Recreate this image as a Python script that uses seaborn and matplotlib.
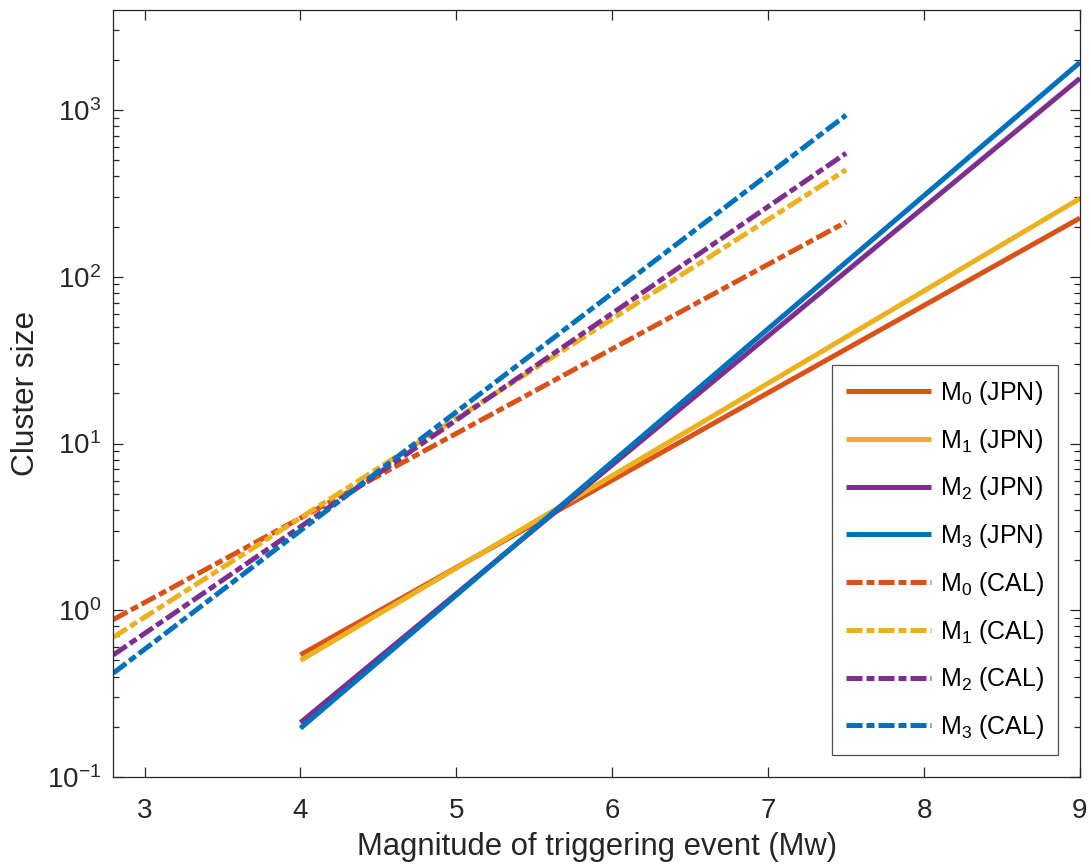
import matplotlib
matplotlib.use("Agg")
import matplotlib.pyplot as plt
import numpy as np
import pandas as pd
import seaborn as sns
from matplotlib.ticker import LogLocator, NullFormatter, FixedLocator


# values (straight lines in log space: endpoints)
jpn_mag = [4.0, 9.0]
jpn_m0 = [0.54, 225]
jpn_m1 = [0.50, 295]
jpn_m2 = [0.212, 1550]
jpn_m3 = [0.196, 1930]

cal_mag = [2.8, 7.5]
cal_m0 = [0.88, 213]
cal_m1 = [0.69, 438]
cal_m2 = [0.54, 551]
cal_m3 = [0.42, 932]

model_names = ["M$_0$", "M$_1$", "M$_2$", "M$_3$"]
colors = ["#D95319", "#EDB120", "#7E2F8E", "#0072BD"]
x_ticks = [3, 4, 5, 6, 7, 8, 9]

sns.set_theme(style="ticks")
plt.rcParams["font.family"] = ["Liberation Sans", "DejaVu Sans"]
plt.rcParams["mathtext.fontset"] = "custom"
plt.rcParams["mathtext.rm"] = "Liberation Sans"
plt.rcParams["mathtext.it"] = "Liberation Sans"
plt.rcParams["mathtext.default"] = "regular"

ink = "#262626"

fig = plt.figure(figsize=(10.91, 8.67), dpi=100)
ax = fig.add_axes([0.1039, 0.1038, 0.886, 0.8847])

rows = []
for name, vals in zip(model_names, [jpn_m0, jpn_m1, jpn_m2, jpn_m3]):
    for m, v in zip(jpn_mag, vals):
        rows.append({"mag": m, "size": v, "label": f"{name} (JPN)", "region": "JPN"})
for name, vals in zip(model_names, [cal_m0, cal_m1, cal_m2, cal_m3]):
    for m, v in zip(cal_mag, vals):
        rows.append({"mag": m, "size": v, "label": f"{name} (CAL)", "region": "CAL"})
df = pd.DataFrame(rows)

labels = list(dict.fromkeys(df["label"]))
palette = dict(zip(labels, colors + colors))

dashdot = (0, (3.2, 0.8, 1.6, 0.8))
for lab in labels:
    sub = df[df["label"] == lab]
    sns.lineplot(data=sub, x="mag", y="size", color=palette[lab], lw=3.6,
                 ax=ax, label=lab, solid_capstyle="butt")
    if sub["region"].iloc[0] == "CAL":
        ax.lines[-1].set_linestyle(dashdot)
        ax.lines[-1].set_dash_capstyle("butt")

ax.set_yscale("log")
ax.set_xlim(2.8, 9)
ax.set_ylim(0.1, 10 ** 3.6)
ax.xaxis.set_major_locator(FixedLocator(x_ticks))
ax.yaxis.set_major_locator(LogLocator(base=10, numticks=20))
ax.yaxis.set_minor_locator(LogLocator(base=10, subs=np.arange(2, 10), numticks=20))
ax.yaxis.set_minor_formatter(NullFormatter())

for side in ax.spines.values():
    side.set_linewidth(0.9)
    side.set_color(ink)
ax.tick_params(which="both", direction="in", top=True, right=True,
               colors=ink, width=0.9)
ax.tick_params(which="major", length=7.2)
ax.tick_params(which="minor", length=4)
ax.tick_params(axis="x", labelsize=20, pad=15)
ax.tick_params(axis="y", labelsize=20, pad=9)

ax.set_xlabel("Magnitude of triggering event (Mw)", fontsize=22.3, color=ink, labelpad=6)
ax.set_ylabel("Cluster size", fontsize=22.8, color=ink, labelpad=4)

leg = ax.legend(loc="lower right", bbox_to_anchor=(0.977, 0.029), fontsize=18,
                frameon=True, fancybox=False, edgecolor=ink, handlelength=3.4,
                handletextpad=0.35, labelspacing=0.79, borderpad=0.55,
                borderaxespad=0)
leg.get_frame().set_linewidth(0.9)
for h in leg.get_lines():
    h.set_linewidth(3.6)
for t in leg.get_texts():
    t.set_color("black")

fig.savefig("out.png", dpi=100)
